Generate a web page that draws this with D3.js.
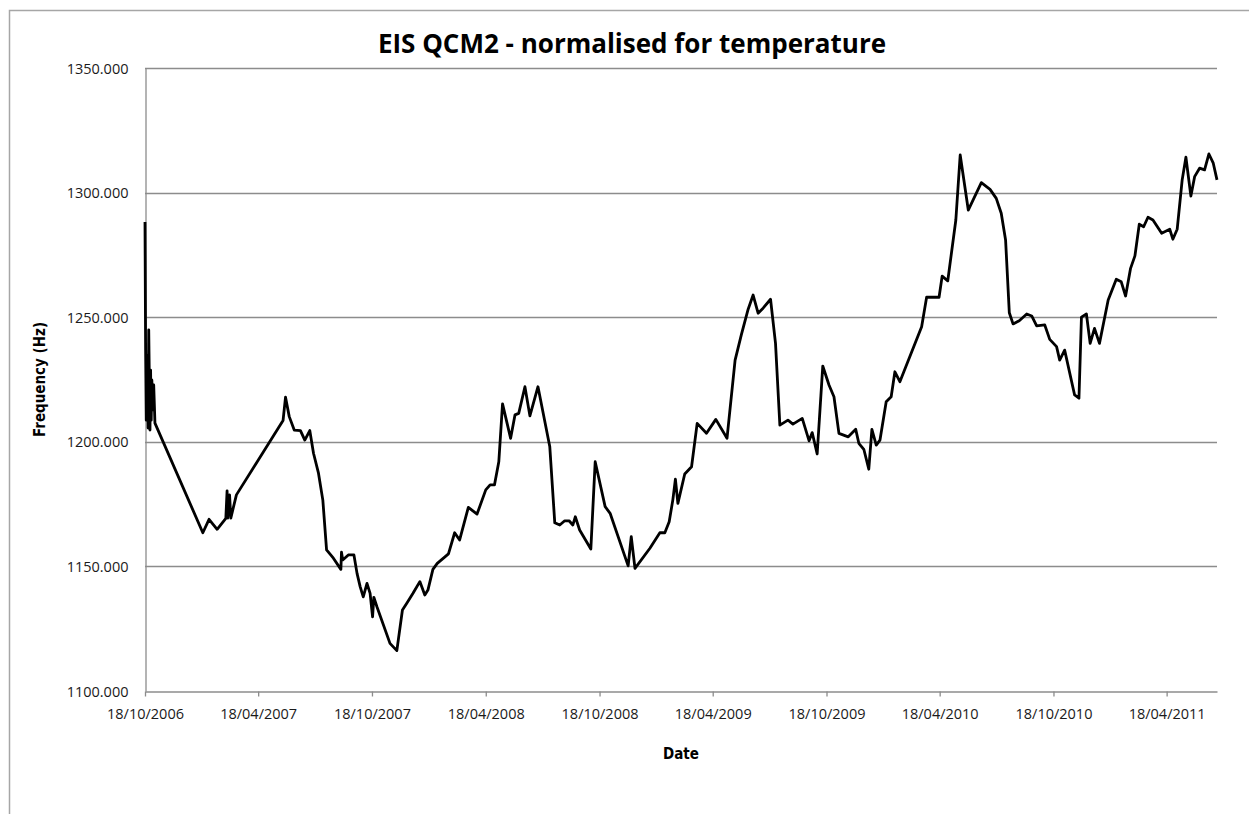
<!DOCTYPE html>
<html lang="en">
<head>
    <meta charset="UTF-8">
    <title>EIS QCM2 - normalised for temperature</title>
    <script src="https://d3js.org/d3.v7.min.js"></script>
    <style>
        body { margin: 0; background: #fff; }
        svg { display: block; }
        .tick-label { font-family: "Open Sans", sans-serif; font-size: 14.5px; fill: #1a1a1a; }
        .chart-title { font-family: "Open Sans", sans-serif; font-size: 26px; font-weight: bold; text-anchor: middle; fill: #000; }
        .axis-title { font-family: "Liberation Sans Narrow", "DejaVu Sans Condensed", sans-serif; font-size: 15px; font-weight: bold; text-anchor: middle; fill: #000; }
    </style>
</head>
<body>
    <div id="chart"></div>

    <script>
        // dates and frequencies
        const dates = [
            "2006-10-18", "2006-10-19", "2006-10-20", "2006-10-21", "2006-10-23", "2006-10-24", "2006-10-26",
            "2006-10-27", "2006-10-28", "2006-10-29", "2006-10-31", "2006-11-01", "2006-11-03",
            "2007-01-19", "2007-01-29", "2007-02-11", "2007-02-25", "2007-02-27", "2007-02-28", "2007-03-03",
            "2007-03-05", "2007-03-14",
            "2007-05-28", "2007-06-01", "2007-06-07", "2007-06-15", "2007-06-25", "2007-07-02", "2007-07-10",
            "2007-07-16", "2007-07-24", "2007-07-31", "2007-08-06", "2007-08-17", "2007-08-29", "2007-08-30",
            "2007-09-01", "2007-09-10", "2007-09-19", "2007-09-24", "2007-09-29", "2007-10-04", "2007-10-10",
            "2007-10-15", "2007-10-19", "2007-10-21", "2007-10-26", "2007-11-16", "2007-11-27", "2007-12-06",
            "2007-12-13", "2007-12-23",
            "2008-01-03", "2008-01-11", "2008-01-16", "2008-01-24", "2008-01-31", "2008-02-10", "2008-02-18",
            "2008-02-28", "2008-03-07", "2008-03-21", "2008-04-04", "2008-04-18", "2008-04-25", "2008-05-02",
            "2008-05-09", "2008-05-15", "2008-05-28", "2008-06-04", "2008-06-10", "2008-06-20", "2008-06-28",
            "2008-07-11", "2008-07-30", "2008-08-07", "2008-08-15", "2008-08-23", "2008-08-30", "2008-09-05",
            "2008-09-09", "2008-09-16", "2008-10-04", "2008-10-11", "2008-10-27", "2008-11-04", "2008-12-03",
            "2008-12-08", "2008-12-14",
            "2009-01-07", "2009-01-23", "2009-01-31", "2009-02-07", "2009-02-13", "2009-02-17", "2009-02-21",
            "2009-03-04", "2009-03-15", "2009-03-24", "2009-04-08", "2009-04-23", "2009-05-11", "2009-05-24",
            "2009-06-03", "2009-06-14", "2009-06-22", "2009-06-30", "2009-07-08", "2009-07-20", "2009-07-28",
            "2009-08-04", "2009-08-17", "2009-08-25", "2009-09-09", "2009-09-20", "2009-09-25", "2009-10-03",
            "2009-10-12", "2009-10-22", "2009-10-30", "2009-11-07", "2009-11-22", "2009-12-04", "2009-12-09",
            "2009-12-17", "2009-12-25", "2009-12-30",
            "2010-01-06", "2010-01-12", "2010-01-22", "2010-01-30", "2010-02-05", "2010-02-13", "2010-03-20",
            "2010-03-28", "2010-04-17", "2010-04-22", "2010-05-01", "2010-05-14", "2010-05-21", "2010-06-03",
            "2010-06-24", "2010-07-08", "2010-07-18", "2010-07-26", "2010-08-02", "2010-08-08", "2010-08-14",
            "2010-08-24", "2010-09-05", "2010-09-13", "2010-09-21", "2010-10-04", "2010-10-12", "2010-10-23",
            "2010-10-28", "2010-11-05", "2010-11-21", "2010-11-28", "2010-12-02", "2010-12-10", "2010-12-16",
            "2010-12-23", "2010-12-31",
            "2011-01-14", "2011-01-27", "2011-02-04", "2011-02-11", "2011-02-19", "2011-02-26", "2011-03-05",
            "2011-03-12", "2011-03-19", "2011-03-27", "2011-04-10", "2011-04-23", "2011-04-28", "2011-05-05",
            "2011-05-13", "2011-05-19", "2011-05-27", "2011-06-02", "2011-06-10", "2011-06-18", "2011-06-25",
            "2011-07-02", "2011-07-08"
        ];

        const frequencies = [
            1288.2, 1236.8, 1208.7, 1234.8, 1205.5, 1244.9, 1204.7, 1228.8, 1208.7, 1224.8, 1212.8, 1222.8, 1207.5,
            1163.5, 1168.9, 1164.9, 1169.3, 1180.3, 1169.4, 1178.7, 1169.4, 1178.7,
            1208.5, 1217.9, 1210.1, 1204.7, 1204.5, 1200.7, 1204.5, 1195.4, 1187.4, 1176.6, 1156.6, 1153.3,
            1148.8, 1155.7, 1152.6, 1154.6, 1154.6, 1147.2, 1141.9, 1137.8, 1143.2, 1139.2, 1129.8, 1137.6,
            1133.8, 1119.1, 1116.2, 1132.5, 1135.2, 1139.2,
            1143.9, 1138.5, 1140.5, 1148.8, 1151.2, 1153.3, 1155.0, 1163.5, 1160.6, 1173.7, 1171.0, 1180.7,
            1182.7, 1182.7, 1192.0, 1215.2, 1201.4, 1210.8, 1211.4, 1222.1, 1210.4, 1222.1, 1198.0, 1167.5,
            1166.6, 1168.3, 1168.3, 1166.6, 1169.9, 1164.6, 1157.0, 1192.0, 1174.0, 1171.3, 1150.2, 1161.9, 1149.2,
            1157.3, 1163.5, 1163.5, 1167.9, 1176.9, 1185.0, 1175.3, 1187.1, 1190.0, 1207.4, 1203.4, 1209.0,
            1201.4, 1232.8, 1242.9, 1253.2, 1258.9, 1251.6, 1253.6, 1257.2, 1239.5, 1206.7, 1208.7, 1207.1,
            1209.4, 1200.4, 1203.7, 1195.1, 1230.4, 1222.8, 1218.1, 1203.4, 1202.0, 1205.0, 1199.4, 1197.0,
            1189.0, 1205.0,
            1198.7, 1200.7, 1216.1, 1218.1, 1228.1, 1224.1, 1246.2, 1258.0, 1258.0, 1266.5, 1264.6, 1289.0,
            1315.1, 1293.0, 1304.0, 1301.3, 1297.7, 1291.7, 1281.0, 1251.8, 1247.3, 1248.6, 1251.3, 1250.5,
            1246.5, 1246.9, 1241.1, 1238.2, 1232.8, 1236.8, 1218.8, 1217.5, 1250.0, 1251.3, 1239.5, 1245.5, 1239.5,
            1256.9, 1265.2, 1264.2, 1258.5, 1269.6, 1274.6, 1287.3, 1286.3, 1290.1, 1289.0, 1283.7, 1285.3,
            1281.3, 1285.3, 1305.1, 1314.2, 1298.6, 1306.4, 1309.8, 1309.1, 1315.5, 1311.8, 1305.1
        ];

        const xTickLabels = ["18/10/2006", "18/04/2007", "18/10/2007", "18/04/2008", "18/10/2008",
            "18/04/2009", "18/10/2009", "18/04/2010", "18/10/2010", "18/04/2011"];
        const yTicks = [1100, 1150, 1200, 1250, 1300, 1350];
        const xDomain = ["2006-10-18", "2011-07-08"];

        const parseIso = d3.timeParse("%Y-%m-%d");
        const parseTick = d3.timeParse("%d/%m/%Y");
        const data = dates.map((d, i) => ({ date: parseIso(d), value: frequencies[i] }));

        const width = 1249, height = 814;
        const plot = { left: 145, top: 68, right: 1217, bottom: 691 };

        const svg = d3.select("#chart").append("svg")
            .attr("width", width)
            .attr("height", height);

        // chart area border
        svg.append("rect")
            .attr("x", 9.5).attr("y", 10.5)
            .attr("width", 1300).attr("height", 900)
            .attr("fill", "none")
            .attr("stroke", "#a6a6a6")
            .attr("stroke-width", 1.5);

        const x = d3.scaleTime()
            .domain(xDomain.map(parseIso))
            .range([plot.left, plot.right]);

        const y = d3.scaleLinear()
            .domain([1100, 1350])
            .range([plot.bottom, plot.top]);

        // horizontal gridlines
        svg.append("g")
            .selectAll("line")
            .data(yTicks.slice(1))
            .enter().append("line")
            .attr("x1", plot.left).attr("x2", plot.right)
            .attr("y1", d => Math.round(y(d)) + 0.5)
            .attr("y2", d => Math.round(y(d)) + 0.5)
            .attr("stroke", "#8c8c8c")
            .attr("stroke-width", 1.3);

        // y axis
        const yAxis = svg.append("g")
            .attr("transform", `translate(${plot.left + 0.5},0)`)
            .call(d3.axisLeft(y).tickValues(yTicks).tickSize(0).tickPadding(17).tickFormat(d3.format(".3f")));
        yAxis.select(".domain").attr("stroke", "#8c8c8c").attr("stroke-width", 1.3);
        yAxis.selectAll("text").attr("class", "tick-label").attr("dy", "0.35em");

        // x axis
        const xAxis = svg.append("g")
            .attr("transform", `translate(0,${plot.bottom + 0.5})`)
            .call(d3.axisBottom(x)
                .tickValues(xTickLabels.map(parseTick))
                .tickSizeInner(5).tickSizeOuter(0).tickPadding(12)
                .tickFormat(d3.timeFormat("%d/%m/%Y")));
        xAxis.select(".domain").attr("stroke", "#8c8c8c").attr("stroke-width", 1.3);
        xAxis.selectAll(".tick line").attr("stroke", "#8c8c8c").attr("stroke-width", 1.3);
        xAxis.selectAll("text").attr("class", "tick-label").attr("dy", "0.71em");

        // frequency line
        const line = d3.line()
            .x(d => x(d.date))
            .y(d => y(d.value));

        svg.append("path")
            .datum(data)
            .attr("d", line)
            .attr("fill", "none")
            .attr("stroke", "#000")
            .attr("stroke-width", 2.8)
            .attr("stroke-linejoin", "round");

        // titles
        svg.append("text")
            .attr("class", "chart-title")
            .attr("x", 632)
            .attr("y", 53)
            .text("EIS QCM2 - normalised for temperature");

        svg.append("text")
            .attr("class", "axis-title")
            .attr("x", (plot.left + plot.right) / 2)
            .attr("y", 759)
            .text("Date");

        svg.append("text")
            .attr("class", "axis-title")
            .attr("transform", `translate(45,${(plot.top + plot.bottom) / 2}) rotate(-90)`)
            .text("Frequency (Hz)");
    </script>
</body>
</html>
